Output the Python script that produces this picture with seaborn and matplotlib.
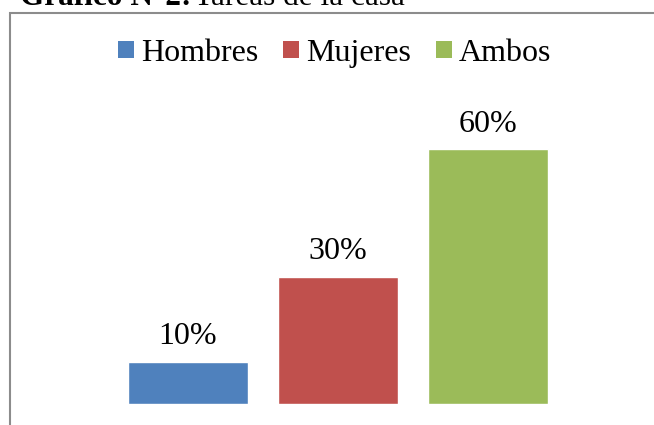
import matplotlib
matplotlib.use("Agg")
import matplotlib.pyplot as plt
import seaborn as sns
import pandas as pd
from matplotlib.patches import Rectangle, Patch

categories = ["Hombres", "Mujeres", "Ambos"]
values = [0.10, 0.30, 0.60]
labels = ["10%", "30%", "60%"]
colors = ["#4F81BD", "#C0504D", "#9BBB59"]

sns.set_theme(style="white")
plt.rcParams['font.family'] = ['Liberation Serif', 'DejaVu Serif']
plt.rcParams['text.color'] = 'black'

W, H = 654, 425
fig = plt.figure(figsize=(W/100, H/100), dpi=100)

# axes placement in pixels
left_px, right_px = 113, 563
bottom_px = 404
ax = fig.add_axes([left_px/W, (H-bottom_px)/H, (right_px-left_px)/W, (bottom_px-106.5)/H])

df = pd.DataFrame({"cat": categories, "val": values})
sns.barplot(data=df, x="cat", y="val", hue="cat", palette=colors, order=categories,
            hue_order=categories, width=0.8, saturation=1, legend=False, ax=ax)
ax.set_xlim(-0.5, 2.5)
ax.set_ylim(0, 0.7)
ax.axis("off")

for i, (v, lab) in enumerate(zip(values, labels)):
    ax.annotate(lab, (i, v), xytext=(0, 12.3), textcoords="offset points",
                ha="center", va="baseline", fontsize=23, color="black")

handles = [Patch(facecolor=c, edgecolor="none") for c in colors]
fig.legend(handles, categories, loc="center", bbox_to_anchor=(334.5/W, (H-53.5)/H),
           ncol=3, frameon=False, fontsize=23, handlelength=0.5, handleheight=0.47,
           handletextpad=0.22, columnspacing=0.78, borderaxespad=0, borderpad=0,
           labelcolor="black")

# outer frame
fig.add_artist(Rectangle((10/W, -0.1), 1.0, (H-13)/H + 0.1, transform=fig.transFigure,
                         fill=False, edgecolor="#8c8c8c", linewidth=1.5, clip_on=False))

# title cut at the top
fig.text(20/W, (H-5)/H, "Gráfico N°2:", fontsize=22.5, fontweight="bold", ha="left",
         va="baseline", color="black")
fig.text(194/W, (H-5)/H, "Tareas de la casa", fontsize=22.5, ha="left",
         va="baseline", color="black")

fig.savefig("out.png", dpi=100)
